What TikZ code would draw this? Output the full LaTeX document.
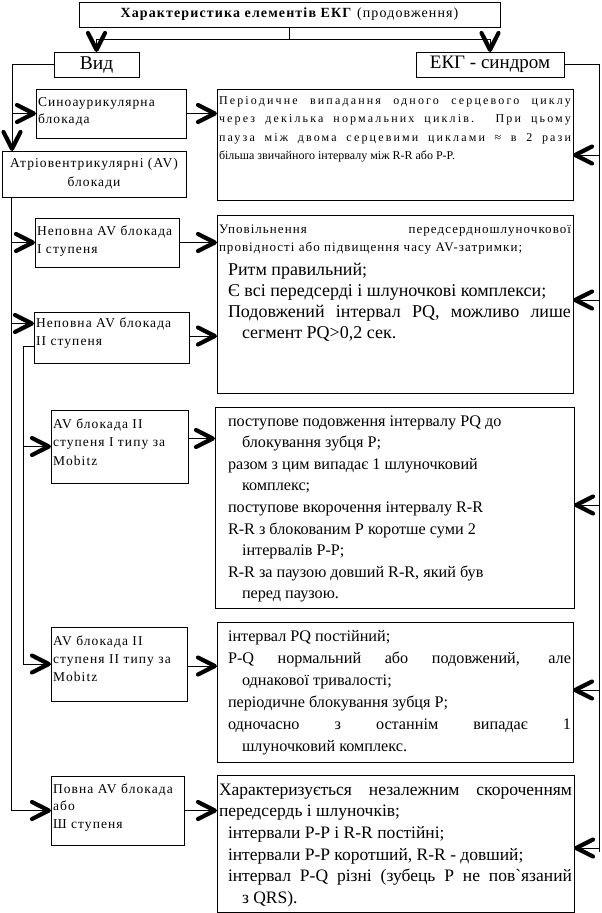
\documentclass[tikz,border=0pt]{standalone}
\usepackage{fontspec}
\setmainfont{Liberation Serif}
\newfontfamily\smf[LetterSpace=8]{Liberation Serif}
\newfontfamily\wsf[LetterSpace=18]{Liberation Serif}
\newfontfamily\plainf{Liberation Serif}
\usetikzlibrary{decorations.markings}
\newcommand\mkbox[6]{\node[box] (#1) at (#2,#3) {\parbox[c][#5pt][t]{\dimexpr#4pt-4pt\relax}{#6}};}
\newcommand\itm[2][9pt]{{\leftskip=#1\hangindent=14pt\hangafter=1 #2\par}}
\begin{document}
\begin{tikzpicture}[x=1pt,y=-1pt,
  box/.style={draw, line width=0.9pt, anchor=north west, inner xsep=2pt, inner ysep=0pt, outer sep=0pt},
  lbl/.style={draw, line width=0.9pt, anchor=north west, inner sep=0pt, outer sep=0pt, align=center},
  conn/.style={line width=0.9pt},
  arr/.style={conn, postaction={decorate}, decoration={markings,
     mark=at position 1 with {\draw[line width=4.2pt, line cap=round, line join=round]
        (-19pt,8.5pt) -- (-2.2pt,0pt) -- (-19pt,-8.5pt);}}}]
\useasboundingbox (0,0) rectangle (602,913);

% header boxes
\node[lbl, minimum width=421pt, minimum height=25pt, font=\smf\fontsize{14}{16}\selectfont] (title) at (79,2)
  {\textbf{Характеристика елементів ЕКГ} (продовження)};
\node[lbl, minimum width=85pt, minimum height=25pt, font=\plainf\fontsize{19.5}{21}\selectfont] (vid) at (54,52) {Вид};
\node[lbl, minimum width=148pt, minimum height=25pt, font=\plainf\fontsize{19}{21}\selectfont] (ekg) at (416,52) {ЕКГ - синдром};

% left column
\mkbox{sino}{36}{89}{150}{49}{\smf\fontsize{13.5}{17.5}\selectfont\rule{0pt}{17pt}Синоаурикулярна\\блокада}
\node[lbl, minimum width=184pt, minimum height=46pt, font=\smf\fontsize{13.5}{19}\selectfont] (atr) at (2,151)
  {Атріовентрикулярні (AV)\\блокади};
\mkbox{n1}{35}{218}{144}{49}{\smf\fontsize{13.5}{18}\selectfont\rule{0pt}{17pt}Неповна AV блокада\\I ступеня}
\mkbox{n2}{34}{312}{155}{51}{\smf\fontsize{13.5}{18}\selectfont\rule{0pt}{15pt}Неповна AV блокада\\II ступеня}
\mkbox{av1}{51}{410}{137}{73}{\smf\fontsize{13.5}{18.5}\selectfont\rule{0pt}{18pt}AV блокада II\\ступеня I типу за\\Mobitz}
\mkbox{av2}{51}{627}{136}{74}{\smf\fontsize{13.5}{18}\selectfont\rule{0pt}{18pt}AV блокада II\\ступеня II типу за\\Mobitz}
\mkbox{full}{51}{776}{133}{69}{\smf\fontsize{13.5}{17.5}\selectfont\rule{0pt}{17pt}Повна AV блокада\\або\\Ш ступеня}

% right column
\mkbox{r1}{217}{89}{356}{111}{\plainf\fontsize{12}{18.5}\selectfont\rule{0pt}{15pt}{\wsf Періодичне випадання одного серцевого циклу}\linebreak {\wsf через декілька нормальних циклів. При цьому}\linebreak {\wsf пауза між двома серцевими циклами ≈ в 2 рази}\linebreak більша звичайного інтервалу між R-R або P-P.}
\mkbox{r2}{217}{215}{356}{178}{\smf\fontsize{13}{18}\selectfont\rule{0pt}{18pt}Уповільнення передсердношлуночкової\linebreak провідності або підвищення часу AV-затримки;\par
  \vspace{3pt}\plainf\fontsize{18}{21}\selectfont
  \itm{Ритм правильний;}
  \itm{Є всі передсерді і шлуночкові комплекси;}
  \itm{Подовжений інтервал PQ, можливо лише\linebreak сегмент PQ>0,2 сек.}}
\mkbox{r3}{215}{407}{359}{201}{\plainf\fontsize{16.2}{21.6}\selectfont\raggedright\rule{0pt}{19pt}%
  \itm[11pt]{поступове подовження інтервалу PQ до\linebreak блокування зубця P;}
  \itm[11pt]{разом з цим випадає 1 шлуночковий\linebreak комплекс;}
  \itm[11pt]{поступове вкорочення інтервалу R-R}
  \itm[11pt]{R-R з блокованим P коротше суми 2\linebreak інтервалів P-P;}
  \itm[11pt]{R-R за паузою довший R-R, який був\linebreak перед паузою.}}
\mkbox{r4}{217}{622}{356}{140}{\plainf\fontsize{16.2}{22}\selectfont\rule{0pt}{19pt}%
  \itm{інтервал PQ постійний;}
  \itm{P-Q нормальний або подовжений, але\linebreak однакової тривалості;}
  \itm{періодичне блокування зубця P;}
  \itm{одночасно з останнім випадає 1\linebreak шлуночковий комплекс.}}
\mkbox{r5}{217}{775}{357}{137}{\plainf\fontsize{17.5}{21.7}\selectfont\rule{0pt}{20pt}Характеризується незалежним скороченням\linebreak передсердь і шлуночків;\par
  \itm{інтервали P-P і R-R постійні;}
  \itm{інтервали P-P коротший, R-R - довший;}
  \itm{інтервал P-Q різні (зубець P не пов`язаний\linebreak з QRS).}}

% top connectors
\coordinate (hub) at ([yshift=-12pt]title.south);
\draw[conn] (title.south) -- (hub);
\draw[arr] (hub) -| (vid.north);
\draw[arr] (hub) -| (ekg.north);

% left spines
\coordinate (spC) at ([xshift=-42pt]vid.west);
\draw[arr] (vid.west) -- (spC) -- (spC |- atr.north);
\draw[arr] (spC |- sino.west) -- (sino.west);
\coordinate (spA) at ([xshift=9pt]atr.south west);
\draw[arr] (spA) |- (full.west);
\draw[arr] (spA |- n1.west) -- (n1.west);
\coordinate (n2w) at ([yshift=14pt]n2.west);
\draw[arr] (spA |- n2w) -- (n2w);
\coordinate (n2o) at ([yshift=-8.5pt]n2.west);
\coordinate (spB) at ([xshift=-11pt]n2o);
\draw[arr] (n2o) -- (spB) |- (av2.west);
\draw[arr] (spB |- av1.west) -- (av1.west);

% left to right
\draw[arr] (sino.east) -- (sino.east -| r1.west);
\draw[arr] (n1.east) -- (n1.east -| r2.west);
\coordinate (n2e) at ([yshift=1.5pt]n2.east);
\draw[arr] (n2e) -- (n2e -| r2.west);
\coordinate (av1e) at ([yshift=8pt]av1.east);
\draw[arr] (av1e) -- (av1e -| r3.west);
\coordinate (av2e) at ([yshift=-2pt]av2.east);
\draw[arr] (av2e) -- (av2e -| r4.west);
\draw[arr] (full.east) -- (full.east -| r5.west);

% right spine
\coordinate (rsEnd) at (599,852);
\draw[conn] (ekg.east) -| (rsEnd);
\foreach \i/\y in {1/155,2/300,3/505,4/690,5/848}{
  \coordinate (q\i) at (599,\y);
  \draw[arr] (q\i) -- (q\i -| r\i.east);
}
\end{tikzpicture}
\end{document}
